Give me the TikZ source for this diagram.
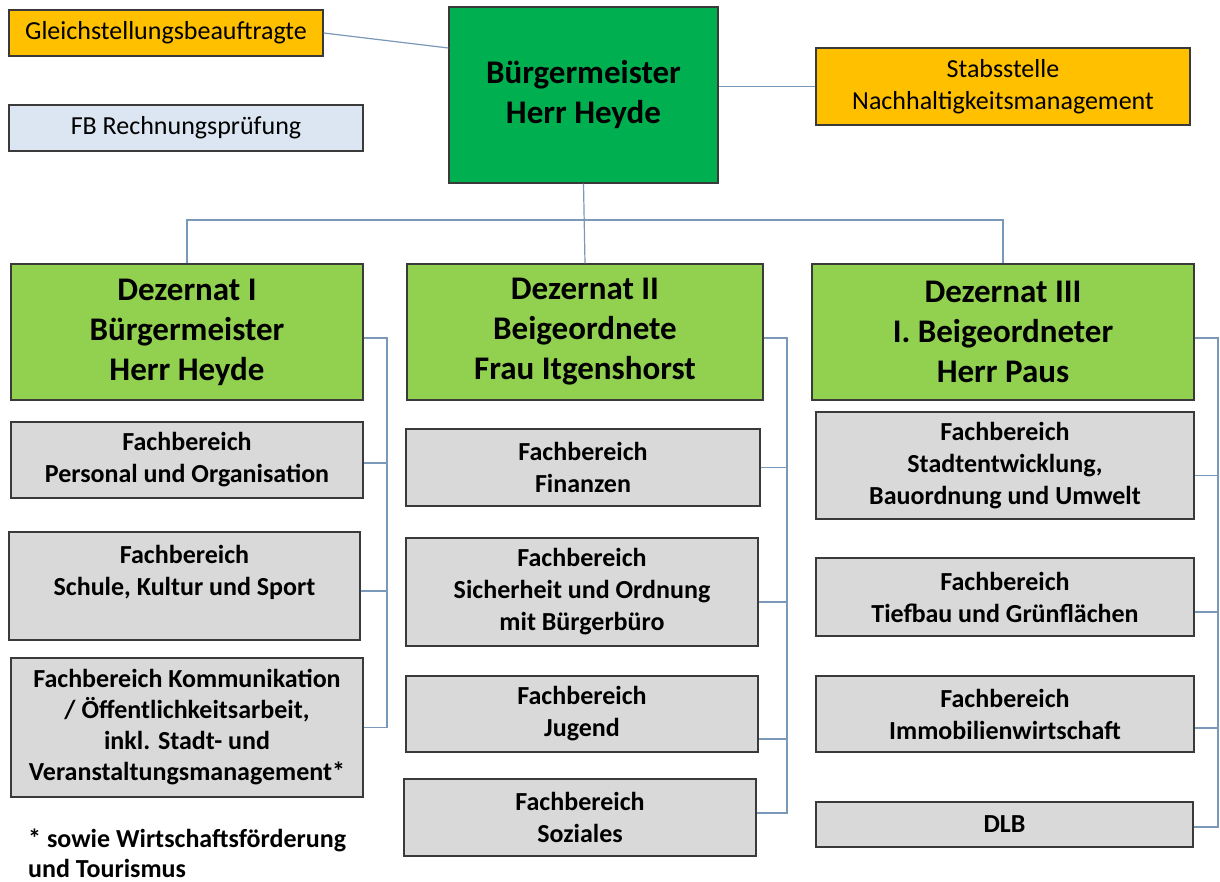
\documentclass[tikz,border=0pt]{standalone}
\usepackage{fontspec}
\setmainfont{Carlito}
\definecolor{orgorange}{HTML}{FFC000}
\definecolor{orgblue}{HTML}{DCE6F2}
\definecolor{orgdark}{HTML}{00B050}
\definecolor{orglight}{HTML}{92D050}
\definecolor{orggray}{HTML}{D9D9D9}
\definecolor{orgline}{HTML}{7A98B8}
\definecolor{orgframe}{HTML}{3A3A3A}

\begin{document}
\begin{tikzpicture}[x=1pt,y=-1pt,
    box/.style={draw=orgframe,line width=1.3pt,rectangle,inner sep=0pt,align=center,
        font=\fontsize{26}{32}\selectfont\bfseries},
    staff/.style={box,fill=orgorange,font=\fontsize{26}{32}\selectfont},
    head/.style={box,fill=orglight,font=\fontsize{33}{40}\selectfont\bfseries},
    unit/.style={box,fill=orggray},
    conn/.style={draw=orgline,line width=1.2pt}]
    \useasboundingbox (0,0) rectangle (1220,882);
    % top level
    \node[staff,minimum width=314pt,minimum height=46pt] (gleich) at (166,33) {Gleichstellungsbeauftragte};
    \node[box,fill=orgblue,font=\fontsize{26}{32}\selectfont,minimum width=354pt,minimum height=46pt] (rpruef) at (186,128) {FB Rechnungsprüfung};
    \node[head,fill=orgdark,minimum width=269pt,minimum height=176pt] (bm) at (583.5,95) {Bürgermeister\\Herr Heyde};
    \node[staff,minimum width=374pt,minimum height=77pt] (stabs) at (1003,86.5) {Stabsstelle\\Nachhaltigkeitsmanagement};
    % Dezernate
    \node[head,minimum width=352pt,minimum height=136pt] (dez1) at (187,332) {Dezernat I\\Bürgermeister\\Herr Heyde};
    \node[head,minimum width=356pt,minimum height=136pt] (dez2) at (585,332) {Dezernat II\\Beigeordnete\\Frau Itgenshorst};
    \node[head,minimum width=382pt,minimum height=136pt] (dez3) at (1003,332) {Dezernat III\\I. Beigeordneter\\Herr Paus};
    % Dezernat I
    \node[unit,minimum width=352pt,minimum height=76pt] (pers) at (187,460) {Fachbereich\\Personal und Organisation};
    \node[unit,minimum width=351pt,minimum height=108pt] (schule) at (184.5,586) {Fachbereich\\Schule, Kultur und Sport\\\mbox{}};
    \node[unit,minimum width=352pt,minimum height=139pt,font=\fontsize{26}{31}\selectfont\bfseries] (kom) at (187,727.5) {Fachbereich Kommunikation\\/ Öffentlichkeitsarbeit,\\inkl. Stadt- und\\Veranstaltungsmanagement*};
    \node[anchor=west,align=left,inner sep=0pt,font=\fontsize{26}{30}\selectfont\bfseries] (note) at (28,853) {* sowie Wirtschaftsförderung\\und Tourismus};
    % Dezernat II
    \node[unit,minimum width=354pt,minimum height=77pt] (fin) at (583,467.5) {Fachbereich\\Finanzen};
    \node[unit,minimum width=352pt,minimum height=108pt] (sich) at (582,592) {Fachbereich\\Sicherheit und Ordnung\\mit Bürgerbüro};
    \node[unit,minimum width=352pt,minimum height=76pt] (jug) at (582,714) {Fachbereich\\Jugend};
    \node[unit,minimum width=352pt,minimum height=77pt] (soz) at (580,817.5) {Fachbereich\\Soziales};
    % Dezernat III
    \node[unit,minimum width=378pt,minimum height=107pt] (stadt) at (1005,465.5) {Fachbereich\\Stadtentwicklung,\\Bauordnung und Umwelt};
    \node[unit,minimum width=378pt,minimum height=78pt] (tief) at (1005,597) {Fachbereich\\Tiefbau und Grünflächen};
    \node[unit,minimum width=378pt,minimum height=76pt] (immo) at (1005,714) {Fachbereich\\Immobilienwirtschaft};
    \node[unit,minimum width=377pt,minimum height=45pt] (dlb) at (1004.5,824.5) {DLB};

    % connectors
    \coordinate (bus) at (584,220);
    \coordinate (r1) at (387,0);
    \coordinate (r2) at (787,0);
    \coordinate (r3) at (1218,0);
    \foreach \n/\d in {dez1/-6,pers/-3,schule/-5,kom/0,dez2/-6,fin/0,sich/-10,jug/-25,soz/4.5,
        dez3/-6,stadt/-10,tief/-15,immo/-14,dlb/-2.5}
        \coordinate (\n-t) at ([yshift=\d pt]\n.east);
    \draw[conn] (gleich.east) -- ([yshift=47pt]bm.west);
    \draw[conn] (stabs.west) -- (stabs.west -| bm.east);
    \draw[conn] (bm.south) -- (dez2.north);
    \draw[conn] (dez1.north) |- (bus) -| (dez3.north);
    \draw[conn] (dez1-t) -- (dez1-t -| r1) -- (kom-t -| r1) -- (kom-t);
    \draw[conn] (dez2-t) -- (dez2-t -| r2) -- (soz-t -| r2) -- (soz-t);
    \draw[conn] (dez3-t) -- (dez3-t -| r3) -- (dlb-t -| r3) -- (dlb-t);
    \foreach \n in {pers,schule} \draw[conn] (\n-t) -- (\n-t -| r1);
    \foreach \n in {fin,sich,jug} \draw[conn] (\n-t) -- (\n-t -| r2);
    \foreach \n in {stadt,tief,immo} \draw[conn] (\n-t) -- (\n-t -| r3);
\end{tikzpicture}
\end{document}
